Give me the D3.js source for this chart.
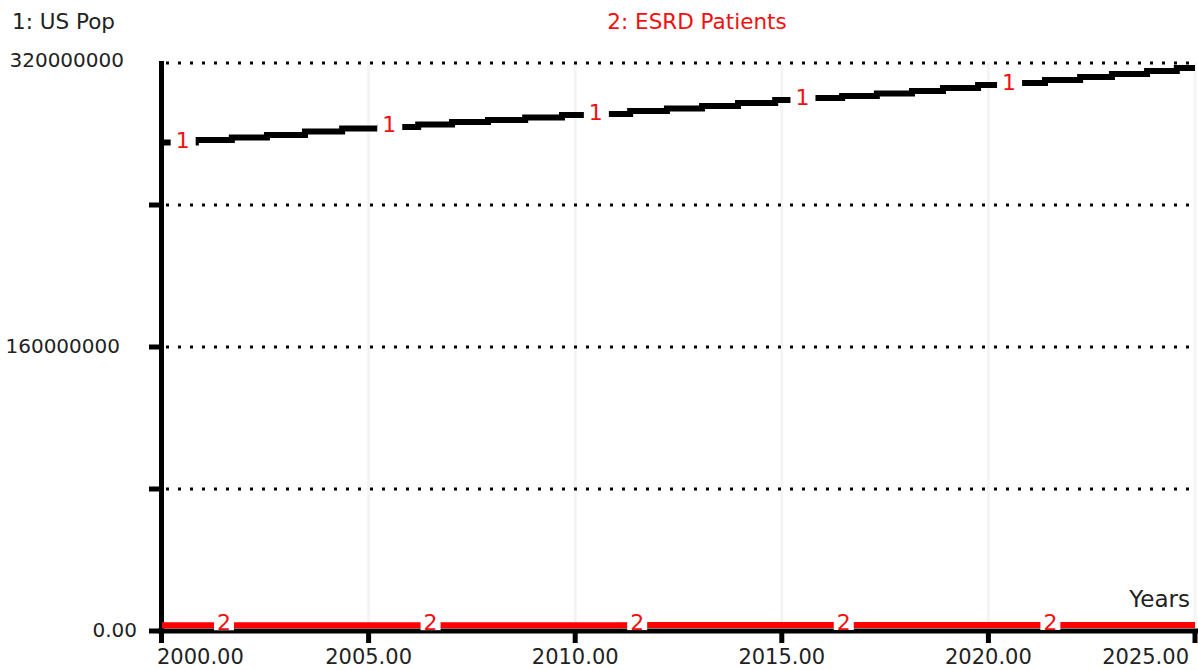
<!DOCTYPE html>
<html lang="en">
<head>
    <meta charset="UTF-8">
    <title>US Pop and ESRD Patients</title>
    <script src="https://cdn.jsdelivr.net/npm/d3@7"></script>
    <style>
        body {
            margin: 0;
            background: #fff;
        }

        svg {
            display: block;
            font-family: "DejaVu Sans", sans-serif;
        }

        .label {
            font-size: 20px;
            fill: #222;
        }

        .marker {
            font-size: 22px;
            fill: #f01010;
        }
    </style>
</head>
<body>
<script>
    // step times (years) and values for US Pop, last entry closes the line at 2025
    const popYears = [2000, 2000.82, 2001.69, 2002.54, 2003.46, 2004.36, 2005.28, 2006.20, 2007.02, 2007.89,
        2008.79, 2009.68, 2010.55, 2011.33, 2012.22, 2013.07, 2013.94, 2014.84, 2015.68, 2016.46,
        2017.30, 2018.15, 2018.90, 2019.75, 2020.57, 2021.37, 2022.22, 2022.99, 2023.84, 2024.56, 2025];
    const popValues = [275.2, 276.6, 278.0, 279.4, 281.4, 283.1, 283.9, 285.4, 286.8, 287.9,
        289.3, 290.7, 291.3, 293.0, 294.4, 295.8, 297.5, 299.2, 300.3, 301.4,
        302.8, 304.2, 305.9, 307.6, 308.7, 310.4, 312.1, 313.8, 315.5, 317.2, 317.2].map(v => v * 1e6);

    // ESRD patients, yearly (sits on the zero line at this scale)
    const esrdYears = d3.range(2000, 2026);
    const esrdValues = [0.38, 0.39, 0.40, 0.41, 0.42, 0.43, 0.44, 0.45, 0.46, 0.47,
        0.48, 0.49, 0.50, 0.51, 0.52, 0.53, 0.54, 0.55, 0.56, 0.57,
        0.58, 0.59, 0.60, 0.61, 0.62, 0.63].map(v => v * 1e6);

    const xTicks = [2000, 2005, 2010, 2015, 2020, 2025];
    const yTicks = [0, 80e6, 160e6, 240e6, 320e6];
    const yTickLabels = {0: "0.00", 160000000: "160000000", 320000000: "320000000"};

    // where the series numbers sit on each line
    const popMarkYears = [2000.5, 2005.5, 2010.5, 2015.5, 2020.5];
    const esrdMarkYears = [2001.5, 2006.5, 2011.5, 2016.5, 2021.5];

    const width = 1198;
    const height = 670;

    const x = d3.scaleLinear().domain([2000, 2025]).range([162, 1195]);
    const y = d3.scaleLinear().domain([0, 320e6]).range([631, 63]);

    const svg = d3.select("body").append("svg")
        .attr("width", width)
        .attr("height", height);

    // faint vertical grid
    svg.append("g")
        .selectAll("line")
        .data(xTicks.slice(1))
        .enter().append("line")
        .attr("x1", d => x(d)).attr("x2", d => x(d))
        .attr("y1", y(320e6)).attr("y2", y(0))
        .attr("stroke", "#f4f4f4")
        .attr("stroke-width", 3);

    // dotted horizontal grid
    svg.append("g")
        .selectAll("line")
        .data(yTicks.slice(1))
        .enter().append("line")
        .attr("x1", 166).attr("x2", 1198)
        .attr("y1", d => y(d)).attr("y2", d => y(d))
        .attr("stroke", "#000")
        .attr("stroke-width", 3)
        .attr("stroke-dasharray", "3,9");

    // axes
    svg.append("line")
        .attr("x1", 158).attr("x2", 1198)
        .attr("y1", y(0)).attr("y2", y(0))
        .attr("stroke", "#000").attr("stroke-width", 5);

    svg.append("line")
        .attr("x1", 161.5).attr("x2", 161.5)
        .attr("y1", y(320e6) - 2).attr("y2", 643)
        .attr("stroke", "#000").attr("stroke-width", 5);

    svg.append("g")
        .selectAll("line")
        .data(yTicks.filter(d => d < 320e6))
        .enter().append("line")
        .attr("x1", 149).attr("x2", 161)
        .attr("y1", d => y(d)).attr("y2", d => y(d))
        .attr("stroke", "#000").attr("stroke-width", 5);

    svg.append("g")
        .selectAll("line")
        .data(xTicks.slice(1))
        .enter().append("line")
        .attr("x1", d => x(d)).attr("x2", d => x(d))
        .attr("y1", y(0)).attr("y2", 643)
        .attr("stroke", "#000").attr("stroke-width", 5);

    svg.append("g")
        .selectAll("text")
        .data(yTicks.filter(d => yTickLabels[d]))
        .enter().append("text")
        .attr("class", "label")
        .attr("text-anchor", "end")
        .attr("x", d => d === 0 ? 137 : (d === 320e6 ? 124 : 120))
        .attr("y", d => y(d) + (d === 320e6 ? 4 : 6))
        .text(d => yTickLabels[d]);

    svg.append("g")
        .selectAll("text")
        .data(xTicks)
        .enter().append("text")
        .attr("class", "label")
        .style("font-size", "21px")
        .attr("text-anchor", (d, i) => i === 0 ? "start" : (i === xTicks.length - 1 ? "end" : "middle"))
        .attr("x", (d, i) => i === 0 ? x(d) - 5 : (i === xTicks.length - 1 ? x(d) - 6 : x(d)))
        .attr("y", 664)
        .text(d => d.toFixed(2));

    svg.append("text")
        .attr("class", "label")
        .style("font-size", "23px")
        .attr("text-anchor", "end")
        .attr("x", 1190).attr("y", 607)
        .text("Years");

    // series titles
    svg.append("text")
        .attr("class", "label")
        .attr("x", 12).attr("y", 29)
        .style("font-size", "21.5px")
        .text("1: US Pop");

    svg.append("text")
        .attr("class", "label")
        .attr("text-anchor", "middle")
        .attr("x", 697).attr("y", 29)
        .style("font-size", "21.5px")
        .style("fill", "#f01010")
        .text("2: ESRD Patients");

    // data lines
    const popLine = d3.line()
        .x((d, i) => x(popYears[i]))
        .y(d => y(d))
        .curve(d3.curveStepAfter);

    svg.append("path")
        .attr("d", popLine(popValues))
        .attr("fill", "none")
        .attr("stroke", "#000")
        .attr("stroke-width", 6);

    const esrdLine = d3.line()
        .x((d, i) => x(esrdYears[i]))
        .y(d => y(d) - 5);

    svg.append("path")
        .attr("d", esrdLine(esrdValues))
        .attr("fill", "none")
        .attr("stroke", "#ff0000")
        .attr("stroke-width", 6);

    // series number markers
    function popAt(t) {
        let i = d3.bisectRight(popYears, t) - 1;
        return popValues[Math.max(0, i)];
    }

    function esrdAt(t) {
        let i = Math.round(t - 2000);
        return esrdValues[i];
    }

    const popMarks = svg.append("g")
        .selectAll("g")
        .data(popMarkYears)
        .enter().append("g")
        .attr("transform", d => `translate(${x(d)},${y(popAt(d))})`);

    popMarks.append("rect")
        .attr("x", -12).attr("y", -6)
        .attr("width", 25).attr("height", 12)
        .attr("fill", "#fff");

    popMarks.append("text")
        .attr("class", "marker")
        .attr("text-anchor", "middle")
        .attr("y", 5)
        .text("1");

    const esrdMarks = svg.append("g")
        .selectAll("g")
        .data(esrdMarkYears)
        .enter().append("g")
        .attr("transform", d => `translate(${x(d)},${y(esrdAt(d)) - 5})`);

    esrdMarks.append("rect")
        .attr("x", -10).attr("y", -5)
        .attr("width", 20).attr("height", 10)
        .attr("fill", "#fff");

    esrdMarks.append("text")
        .attr("class", "marker")
        .attr("text-anchor", "middle")
        .attr("y", 5)
        .text("2");
</script>
</body>
</html>
